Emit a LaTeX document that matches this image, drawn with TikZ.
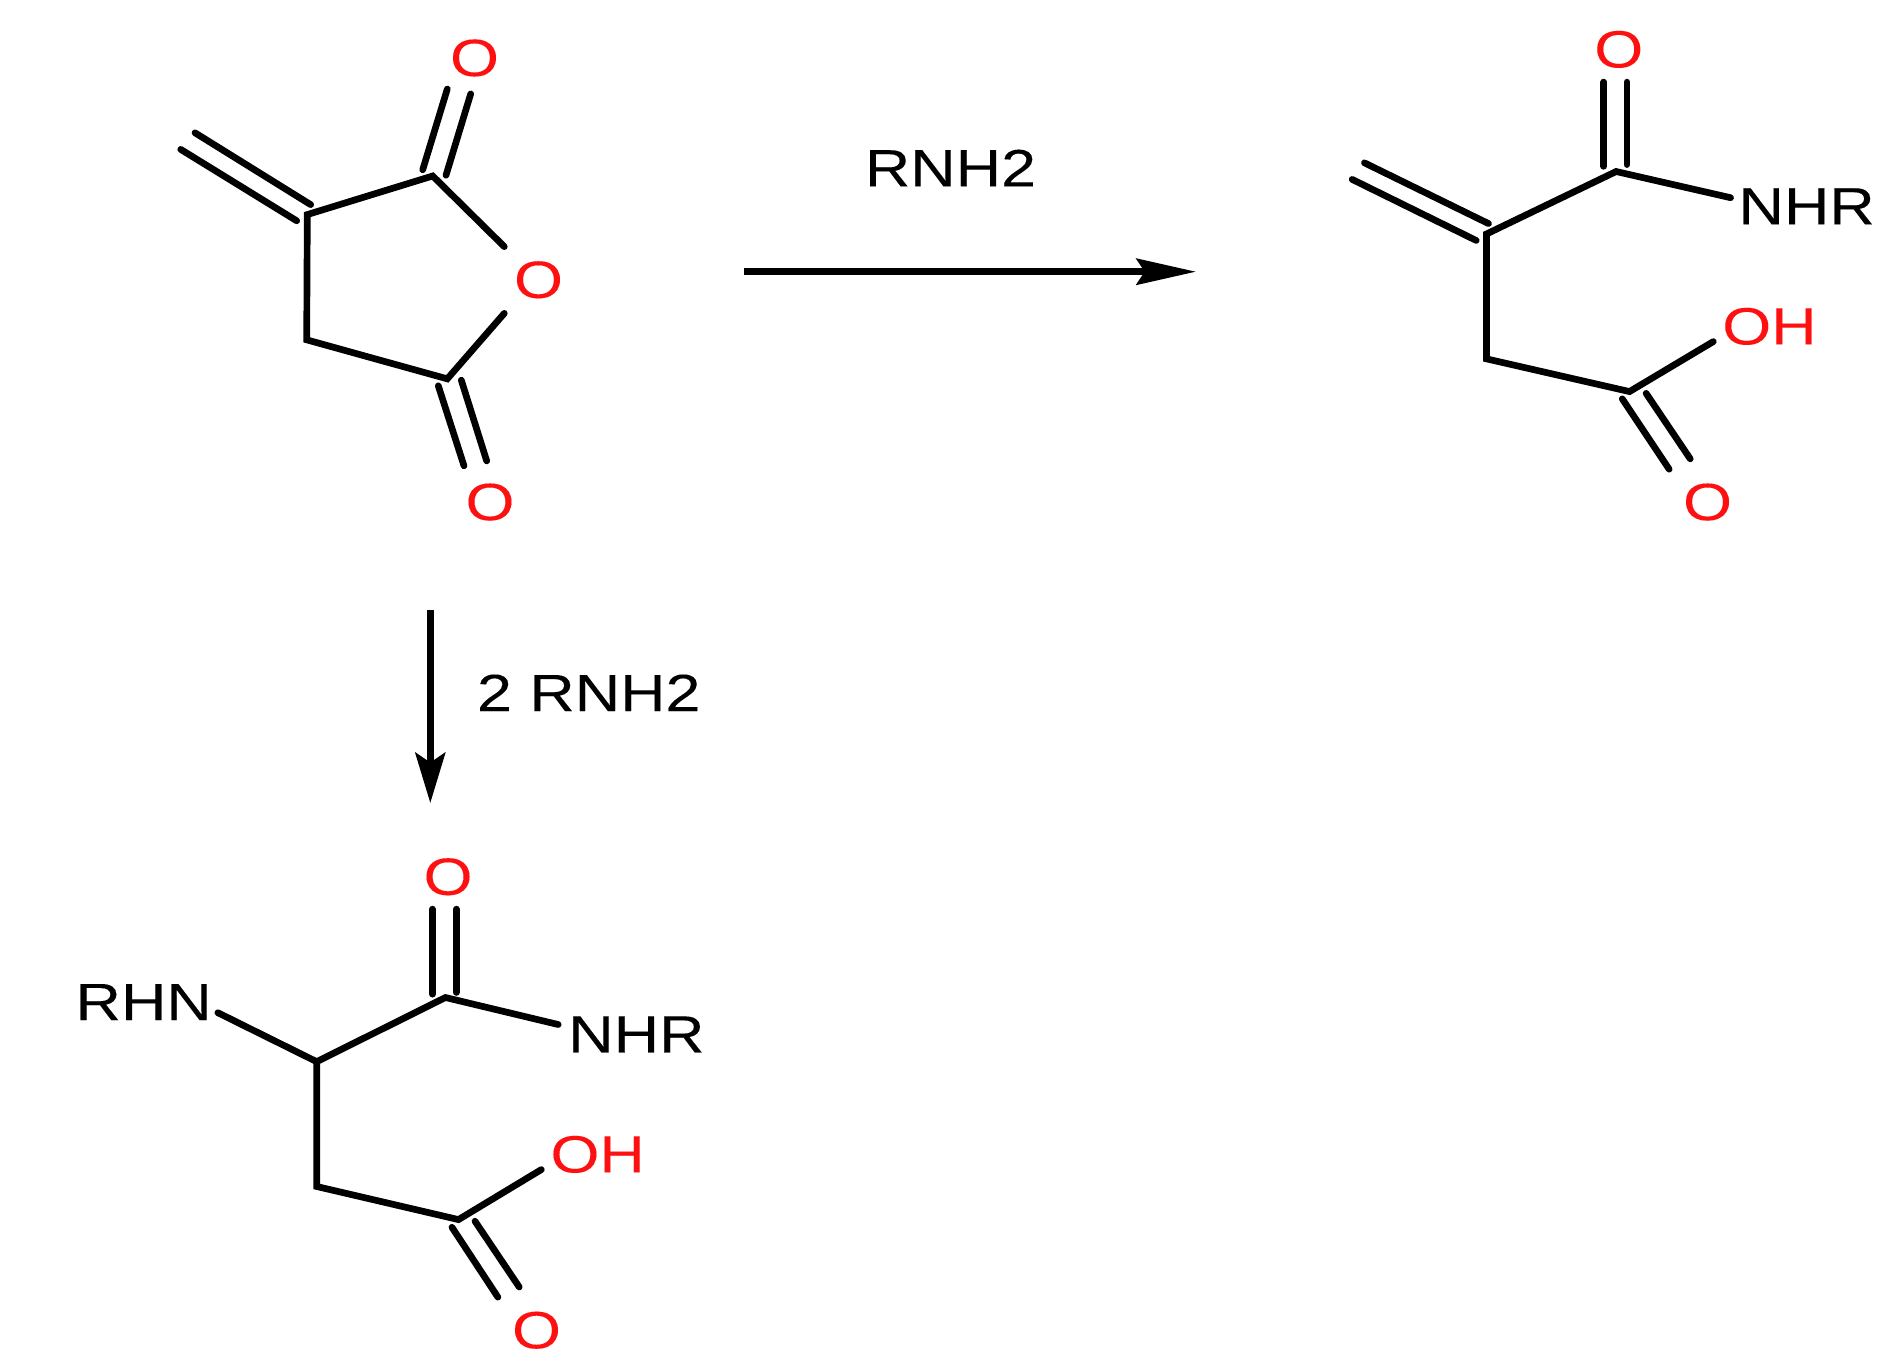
\documentclass[tikz,border=0pt]{standalone}
\usepackage{fontspec}
\setmainfont[FakeBold=0.12]{Liberation Sans}
\usetikzlibrary{arrows.meta}
\definecolor{atomred}{RGB}{255,16,16}
\tikzset{
  bond/.style={line width=1.9pt,line cap=round,line join=miter,black},
  lab/.style={inner sep=0pt,outer sep=0pt,xscale=1.2,transform shape,font=\fontsize{14.9}{16}\selectfont},
  hetero/.style={lab,text=atomred},
  plain/.style={lab,text=black},
  rxnA/.style={line width=1.9pt,black,-{Stealth[length=14.3pt,width=8.5pt,inset=2.8pt]}},
  rxnB/.style={line width=1.9pt,black,-{Stealth[length=16.9pt,width=7.4pt,inset=2.3pt]}}
}
\begin{document}
\begin{tikzpicture}[x=0.01cm,y=-0.01cm]
\fill[white] (0,0) rectangle (1899,1366);
\useasboundingbox (0,0) rectangle (1899,1366);

% --- Anhydride ---
\begin{scope}[y=-0.01035cm]
\coordinate (a1) at (307.3,207.3);
\coordinate (a2) at (432.7,170);
\coordinate (a3) at (504.3,238.3);
\coordinate (a4) at (504.3,302.7);
\coordinate (a5) at (447.3,366);
\coordinate (a6) at (306.7,328.3);
\coordinate (am1s) at (195,128.3);   \coordinate (am1e) at (310.7,197.7);
\coordinate (am2s) at (180.7,144.3); \coordinate (am2e) at (296.7,213.3);
\coordinate (at1s) at (447.3,86);    \coordinate (at1e) at (422.7,164);
\coordinate (at2s) at (470.7,90.7);  \coordinate (at2e) at (446,169.3);
\coordinate (ab1s) at (438.3,372.7); \coordinate (ab1e) at (464,450);
\coordinate (ab2s) at (461.3,367.3); \coordinate (ab2e) at (486.7,445.3);
\draw[bond] (a3) -- (a2) -- (a1) -- (a6) -- (a5) -- (a4);
\draw[bond] (am1s) -- (am1e);
\draw[bond] (am2s) -- (am2e);
\draw[bond] (at1s) -- (at1e);
\draw[bond] (at2s) -- (at2e);
\draw[bond] (ab1s) -- (ab1e);
\draw[bond] (ab2s) -- (ab2e);
\node[hetero] (aO1) at (474.5,56) {O};
\node[hetero] (aO2) at (538.5,270.3) {O};
\node[hetero] (aO3) at (490,485) {O};
\end{scope}

% --- Mono-amide ---
\begin{scope}[x=0.01152cm,y=-0.01035cm,xshift=-2.0cm]
\coordinate (b1) at (1463.3,226);
\coordinate (b2) at (1575.7,165.7);
\coordinate (b3) at (1675,191);
\coordinate (b4) at (1463.3,346.7);
\coordinate (b5) at (1587.3,378.3);
\coordinate (b6) at (1660,330);
\coordinate (bm1s) at (1357.3,157.3); \coordinate (bm1e) at (1465,216);
\coordinate (bm2s) at (1346.7,173.3); \coordinate (bm2e) at (1454.3,232.3);
\coordinate (bt1s) at (1565,79.3);    \coordinate (bt1e) at (1565,160.7);
\coordinate (bt2s) at (1585,79.3);    \coordinate (bt2e) at (1585,159);
\coordinate (bb1s) at (1601.7,380);   \coordinate (bb1e) at (1640,443.3);
\coordinate (bb2s) at (1581,385.3);   \coordinate (bb2e) at (1621.7,453.3);
\draw[bond] (b3) -- (b2) -- (b1) -- (b4) -- (b5) -- (b6);
\draw[bond] (bm1s) -- (bm1e);
\draw[bond] (bm2s) -- (bm2e);
\draw[bond] (bt1s) -- (bt1e);
\draw[bond] (bt2s) -- (bt2e);
\draw[bond] (bb1s) -- (bb1e);
\draw[bond] (bb2s) -- (bb2e);
\node[hetero] (bO1) at (1578,47.7) {O};
\node[plain] (bN) at (1741,199.3) {NHR};
\node[hetero] (bOH) at (1708.7,315.3) {OH};
\node[hetero] (bO2) at (1655,485) {O};
\end{scope}

% --- Diamide ---
\begin{scope}[x=0.013cm,y=-0.01012cm,xshift=-0.15cm,yshift=0.12cm]
\coordinate (c1) at (255,1060.7);
\coordinate (c2) at (354,997.3);
\coordinate (c3) at (440.7,1024);
\coordinate (c4) at (255,1184);
\coordinate (c5) at (364,1216.7);
\coordinate (c6) at (427.7,1167.3);
\coordinate (c7) at (179,1012.3);
\coordinate (ct1s) at (344,910);     \coordinate (ct1e) at (344,994);
\coordinate (ct2s) at (362.3,910);   \coordinate (ct2e) at (362.3,992.3);
\coordinate (cb1s) at (376.7,1218.3);\coordinate (cb1e) at (410.7,1283.3);
\coordinate (cb2s) at (359,1224.3);  \coordinate (cb2e) at (394.3,1293.3);
\draw[bond] (c3) -- (c2) -- (c1) -- (c4) -- (c5) -- (c6);
\draw[bond] (c7) -- (c1);
\draw[bond] (ct1s) -- (ct1e);
\draw[bond] (ct2s) -- (ct2e);
\draw[bond] (cb1s) -- (cb1e);
\draw[bond] (cb2s) -- (cb2e);
\node[hetero] (cO1) at (356,878) {O};
\node[plain] (cR) at (122,1001.8) {RHN};
\node[plain] (cN) at (500.8,1033.8) {NHR};
\node[hetero] (cOH) at (471,1152.3) {OH};
\node[hetero] (cO2) at (424,1326) {O};
\end{scope}

% --- Reaction arrows ---
\coordinate (r1s) at (744,271.7);  \coordinate (r1e) at (1196,271.7);
\coordinate (r2s) at (430.3,610);  \coordinate (r2e) at (430.3,803);
\draw[rxnB] (r1s) -- (r1e);
\draw[rxnA] (r2s) -- (r2e);
\node[plain] (l1) at (950.5,168) {RNH2};
\node[plain] (l2) at (588.8,692.8) {2 RNH2};
\end{tikzpicture}
\end{document}
